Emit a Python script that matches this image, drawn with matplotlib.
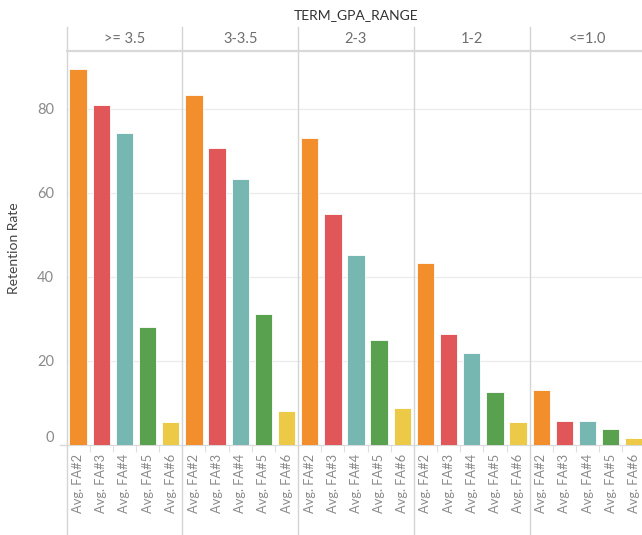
import matplotlib
matplotlib.use("Agg")
import matplotlib.pyplot as plt
from matplotlib.lines import Line2D

plt.rcParams['font.family'] = ['Lato', 'DejaVu Sans']

panels = [">= 3.5", "3-3.5", "2-3", "1-2", "<=1.0"]
measures = ["Avg. FA#2", "Avg. FA#3", "Avg. FA#4", "Avg. FA#5", "Avg. FA#6"]
fa2 = [89.3, 83.3, 72.9, 43.3, 12.9]
fa3 = [80.8, 70.5, 54.8, 26.2, 5.6]
fa4 = [74.2, 63.1, 45.2, 21.7, 5.6]
fa5 = [27.9, 31.0, 24.8, 12.6, 3.6]
fa6 = [5.4, 7.9, 8.7, 5.4, 1.5]
yticks = [0, 20, 40, 60, 80]
colors = ["#F28E2B", "#E15759", "#76B7B2", "#59A14F", "#EDC948"]
title = "TERM_GPA_RANGE"
ylabel = "Retention Rate"

series = [fa2, fa3, fa4, fa5, fa6]

W, H = 642, 535
fig = plt.figure(figsize=(W / 100, H / 100), dpi=100)

x0 = 66.5
pw = 115.8
y_top = 51
y_base = 444.5
y_head = 27
ymax = (y_base - y_top) / 4.2

grid_c = "#EBEBEB"
sep_c = "#D4D4D4"

def fx(px):
    return px / W

def fy(py):
    return 1 - py / H

for i, p in enumerate(panels):
    ax = fig.add_axes([fx(x0 + i * pw), fy(y_base), fx(pw), fy(y_top) - fy(y_base)])
    vals = [s[i] for s in series]
    ax.bar(range(len(measures)), vals, width=0.75, color=colors,
           edgecolor="white", linewidth=0.6, zorder=3)
    ax.set_xlim(-0.5, len(measures) - 0.5)
    ax.set_ylim(0, ymax)
    ax.set_yticks(yticks)
    for g in yticks[1:]:
        ax.axhline(g, color=grid_c, lw=0.9, zorder=1)
    for sp in ax.spines.values():
        sp.set_visible(False)
    ax.spines['bottom'].set_visible(True)
    ax.spines['bottom'].set_color("#D9D9D9")
    ax.set_xticks(range(len(measures)))
    ax.set_xticklabels(measures, rotation=90, fontsize=9.3, color="#8A8A8A")
    ax.tick_params(axis='x', which='major', length=0, pad=7)
    ax.set_xticks([k + 0.5 for k in range(len(measures) - 1)], minor=True)
    ax.tick_params(axis='x', which='minor', length=5, color="#E0E0E0", width=0.8)
    if i == 0:
        ax.tick_params(axis='y', length=0, labelsize=10.5, labelcolor="#8A8A8A", pad=9)
        labs = ax.get_yticklabels()
        labs[0].set_va('bottom')
        ax.set_ylabel(ylabel, fontsize=10, color="#444444", labelpad=12)
    else:
        ax.tick_params(axis='y', length=0, labelleft=False)
    ax.patch.set_alpha(0)
    fig.text(fx(x0 + (i + 0.5) * pw), fy((y_head + y_top) / 2), p,
             ha='center', va='center', fontsize=10.5, color="#6E6E6E")

# panel separators
for i in range(len(panels) + 1):
    xx = fx(x0 + i * pw)
    fig.add_artist(Line2D([xx, xx], [fy(y_head), 0], color=sep_c, lw=1.0))
# header bottom line
fig.add_artist(Line2D([fx(x0), 1], [fy(y_top), fy(y_top)], color="#D9D9D9", lw=1.6))
# baseline stub left of axis
fig.add_artist(Line2D([fx(60), fx(x0)], [fy(y_base), fy(y_base)], color="#D9D9D9", lw=1.0))

fig.text(fx(x0 + 2.5 * pw), fy(15), title, ha='center', va='center',
         fontsize=10, color="#333333")

fig.savefig("out.png", dpi=100, facecolor="white")
